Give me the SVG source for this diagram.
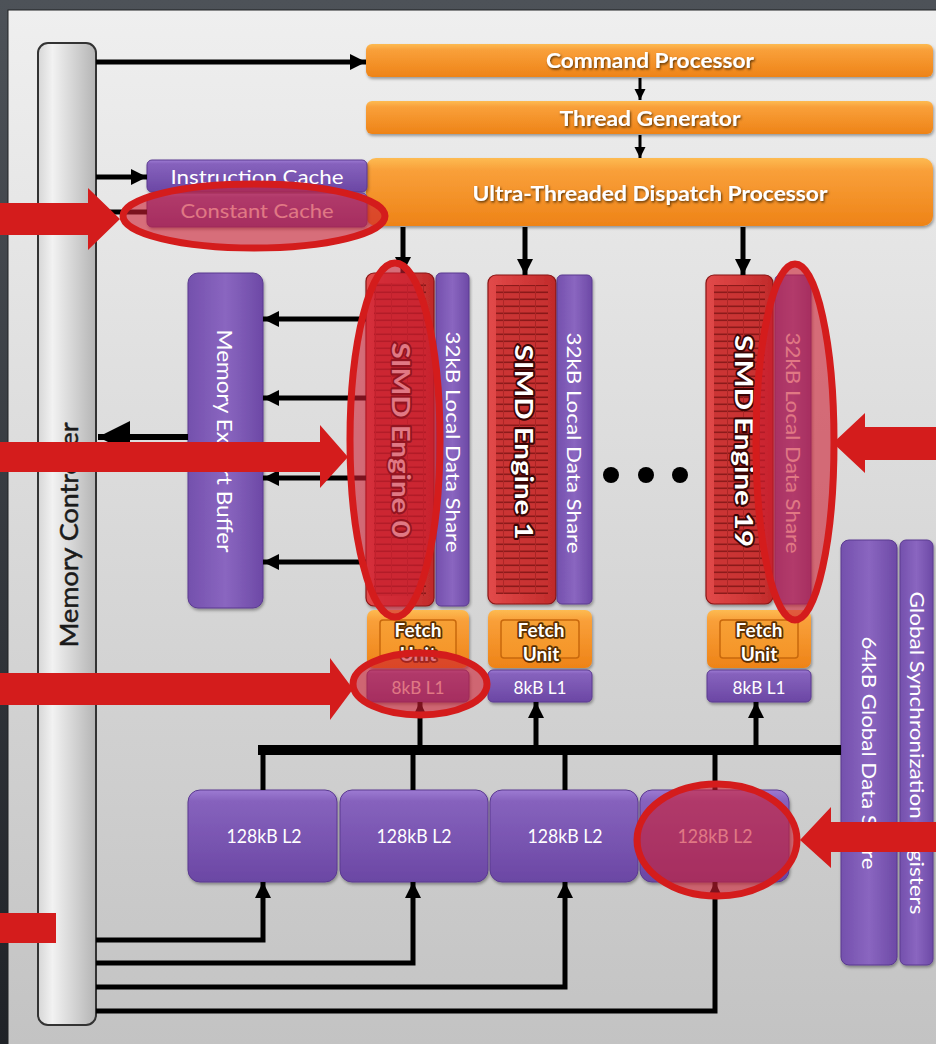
<svg xmlns="http://www.w3.org/2000/svg" width="936" height="1044" viewBox="0 0 936 1044">
<defs>
<linearGradient id="frame" x1="0" y1="0" x2="0" y2="1"><stop offset="0" stop-color="#4d5258"/><stop offset="1" stop-color="#1f2227"/></linearGradient>
<linearGradient id="panel" x1="0" y1="0" x2="0" y2="1"><stop offset="0" stop-color="#efefef"/><stop offset="1" stop-color="#c3c3c3"/></linearGradient>
<linearGradient id="mcg" x1="0" y1="0" x2="1" y2="0"><stop offset="0" stop-color="#d6d6d6"/><stop offset="0.25" stop-color="#f2f2f2"/><stop offset="1" stop-color="#b4b4b4"/></linearGradient>
<linearGradient id="org" x1="0" y1="0" x2="0" y2="1"><stop offset="0" stop-color="#fdbb52"/><stop offset="0.18" stop-color="#f9a03a"/><stop offset="1" stop-color="#ee8317"/></linearGradient>
<linearGradient id="org2" x1="0" y1="0" x2="0" y2="1"><stop offset="0" stop-color="#f7a035"/><stop offset="1" stop-color="#f59528"/></linearGradient>
<linearGradient id="pur" x1="0" y1="0" x2="0" y2="1"><stop offset="0" stop-color="#9d7bd3"/><stop offset="0.12" stop-color="#8662bd"/><stop offset="1" stop-color="#6b47a4"/></linearGradient>
<linearGradient id="purv" x1="0" y1="0" x2="1" y2="0"><stop offset="0" stop-color="#7450ad"/><stop offset="0.5" stop-color="#8a66c0"/><stop offset="1" stop-color="#6d49a6"/></linearGradient>
<linearGradient id="red" x1="0" y1="0" x2="1" y2="0"><stop offset="0" stop-color="#e24a4a"/><stop offset="0.5" stop-color="#d33a3a"/><stop offset="1" stop-color="#c02a2a"/></linearGradient>
<pattern id="simdTex" width="16" height="7" patternUnits="userSpaceOnUse">
<rect width="16" height="7" fill="#c83232"/>
<rect y="4.5" width="16" height="1.6" fill="#7e1414"/>
<rect x="7" width="1" height="7" fill="#a52222"/>
</pattern>
<filter id="sh" x="-10%" y="-10%" width="120%" height="130%"><feDropShadow dx="1" dy="2" stdDeviation="1.5" flood-color="#000" flood-opacity="0.35"/></filter>
<filter id="ts" x="-5%" y="-20%" width="110%" height="150%"><feDropShadow dx="1" dy="1.5" stdDeviation="0.8" flood-color="#4a2500" flood-opacity="0.9"/></filter>
<marker id="ah" viewBox="0 0 10 10" refX="10" refY="5" markerUnits="userSpaceOnUse" markerWidth="16" markerHeight="18" orient="auto"><path d="M0,0 L10,5 L0,10 z" fill="#000"/></marker>
<marker id="ahs" viewBox="0 0 10 10" refX="10" refY="5" markerUnits="userSpaceOnUse" markerWidth="11" markerHeight="12" orient="auto"><path d="M0,0 L10,5 L0,10 z" fill="#000"/></marker>
<marker id="ahb" viewBox="0 0 10 10" refX="10" refY="5" markerUnits="userSpaceOnUse" markerWidth="34" markerHeight="32" orient="auto"><path d="M0,0 L10,5 L0,10 z" fill="#000"/></marker>
<style>
.lbl{font-family:Lato,"Open Sans","Liberation Sans",sans-serif;fill:#ffffff}
.obold{font-weight:bold;font-size:20px;filter:url(#ts)}
.reg{font-size:19px}
.simdt{font-weight:bold;font-size:24px;stroke:#3a0505;stroke-width:3.5px;paint-order:stroke;stroke-linejoin:round}
.fetch{font-weight:bold;font-size:19px;stroke:#5a2e00;stroke-width:3.5px;paint-order:stroke;stroke-linejoin:round}
.ob{fill:url(#org);filter:url(#sh)}
.pb{fill:url(#pur);stroke:#5a3a90;stroke-width:1;filter:url(#sh)}
.pv{fill:url(#purv);stroke:#5a3a90;stroke-width:1;filter:url(#sh)}
.sb{fill:url(#red);stroke:#8a1515;stroke-width:1.2;filter:url(#sh)}
.c{fill:none;stroke:#000;stroke-linejoin:miter}
.hl{fill:rgba(205,30,50,0.6);stroke:#d41c1c;stroke-width:7}
.ra{fill:#d41c1c}
</style>
</defs>

<rect width="936" height="1044" fill="url(#frame)"/>
<rect x="8" y="10" width="929" height="1035" fill="url(#panel)" stroke="#202225" stroke-width="1"/>

<g id="memory-controller">
<rect x="38" y="43" width="58" height="982" rx="10" fill="url(#mcg)" stroke="#333" stroke-width="2"/>
<text transform="translate(68,535) rotate(-90)" text-anchor="middle" dominant-baseline="central" font-family="Lato,'Open Sans','Liberation Sans',sans-serif" font-size="25" fill="#1a1a1a" stroke="#1a1a1a" stroke-width="0.5" textLength="225" lengthAdjust="spacingAndGlyphs">Memory Controller</text>
</g>

<g id="command-processor">
<rect class="ob" x="366" y="44" width="567" height="33" rx="6"/>
<text class="lbl obold" x="650" y="68" text-anchor="middle" textLength="208" lengthAdjust="spacingAndGlyphs">Command Processor</text>
</g>
<g id="thread-generator">
<rect class="ob" x="366" y="101" width="567" height="33" rx="6"/>
<text class="lbl obold" x="650" y="126" text-anchor="middle" textLength="181" lengthAdjust="spacingAndGlyphs">Thread Generator</text>
</g>
<g id="dispatch-processor">
<rect class="ob" x="366" y="158" width="567" height="68" rx="10"/>
<text class="lbl obold" x="650" y="201" text-anchor="middle" font-size="21" textLength="355" lengthAdjust="spacingAndGlyphs">Ultra-Threaded Dispatch Processor</text>
</g>

<g id="instruction-cache">
<rect class="pb" x="147" y="160" width="220" height="32" rx="5"/>
<text class="lbl reg" x="257" y="184" text-anchor="middle" textLength="173" lengthAdjust="spacingAndGlyphs">Instruction Cache</text>
</g>
<g id="constant-cache">
<rect class="pb" x="147" y="193" width="220" height="34" rx="5"/>
<text class="lbl reg" x="257" y="218" text-anchor="middle" textLength="153" lengthAdjust="spacingAndGlyphs">Constant Cache</text>
</g>

<g id="memory-export-buffer">
<rect class="pv" x="188" y="273" width="75" height="335" rx="10"/>
<text class="lbl" transform="translate(225,441) rotate(90)" text-anchor="middle" dominant-baseline="central" font-size="21" textLength="223" lengthAdjust="spacingAndGlyphs">Memory Export Buffer</text>
</g>

<g id="simd-engine-0">
<rect class="sb" x="366" y="273" width="68" height="333" rx="8"/>
<rect x="374" y="283" width="52" height="313" fill="url(#simdTex)" opacity="0.85"/>
<text class="lbl simdt" transform="translate(401,440) rotate(90)" text-anchor="middle" dominant-baseline="central" textLength="195" lengthAdjust="spacingAndGlyphs">SIMD Engine 0</text>
</g>
<g id="lds-0">
<rect class="pv" x="436" y="273" width="33" height="333" rx="5"/>
<text class="lbl" transform="translate(453,442) rotate(90)" text-anchor="middle" dominant-baseline="central" font-size="19" textLength="221" lengthAdjust="spacingAndGlyphs">32kB Local Data Share</text>
</g>
<g id="simd-engine-1">
<rect class="sb" x="488" y="275" width="68" height="329" rx="8"/>
<rect x="496" y="285" width="52" height="309" fill="url(#simdTex)" opacity="0.85"/>
<text class="lbl simdt" transform="translate(524,442) rotate(90)" text-anchor="middle" dominant-baseline="central" textLength="195" lengthAdjust="spacingAndGlyphs">SIMD Engine 1</text>
</g>
<g id="lds-1">
<rect class="pv" x="557" y="275" width="35" height="329" rx="5"/>
<text class="lbl" transform="translate(574,443) rotate(90)" text-anchor="middle" dominant-baseline="central" font-size="19" textLength="221" lengthAdjust="spacingAndGlyphs">32kB Local Data Share</text>
</g>
<g id="ellipsis">
<circle cx="611" cy="475" r="8" fill="#000"/>
<circle cx="646" cy="475" r="8" fill="#000"/>
<circle cx="680" cy="475" r="8" fill="#000"/>
</g>
<g id="simd-engine-19">
<rect class="sb" x="706" y="275" width="67" height="329" rx="8"/>
<rect x="714" y="285" width="51" height="309" fill="url(#simdTex)" opacity="0.85"/>
<text class="lbl simdt" transform="translate(744,441) rotate(90)" text-anchor="middle" dominant-baseline="central" textLength="212" lengthAdjust="spacingAndGlyphs">SIMD Engine 19</text>
</g>
<g id="lds-19">
<rect class="pv" x="775" y="275" width="36" height="329" rx="5"/>
<text class="lbl" transform="translate(793,443) rotate(90)" text-anchor="middle" dominant-baseline="central" font-size="19" textLength="221" lengthAdjust="spacingAndGlyphs">32kB Local Data Share</text>
</g>

<g id="fetch-unit-0">
<rect class="ob" x="367" y="610" width="102" height="58" rx="7"/>
<rect x="380" y="620" width="76" height="38" rx="3" fill="url(#org2)" stroke="#c8680c" stroke-width="1.5"/>
<text class="lbl fetch" x="418" y="637" text-anchor="middle">Fetch</text>
<text class="lbl fetch" x="418" y="661" text-anchor="middle">Unit</text>
</g>
<g id="l1-0">
<rect class="pb" x="367" y="670" width="102" height="32" rx="5"/>
<text class="lbl" x="418" y="694" text-anchor="middle" font-size="17" textLength="53" lengthAdjust="spacingAndGlyphs">8kB L1</text>
</g>
<g id="fetch-unit-1">
<rect class="ob" x="488" y="610" width="104" height="58" rx="7"/>
<rect x="501" y="620" width="78" height="38" rx="3" fill="url(#org2)" stroke="#c8680c" stroke-width="1.5"/>
<text class="lbl fetch" x="541" y="637" text-anchor="middle">Fetch</text>
<text class="lbl fetch" x="541" y="661" text-anchor="middle">Unit</text>
</g>
<g id="l1-1">
<rect class="pb" x="488" y="670" width="104" height="32" rx="5"/>
<text class="lbl" x="540" y="694" text-anchor="middle" font-size="17" textLength="53" lengthAdjust="spacingAndGlyphs">8kB L1</text>
</g>
<g id="fetch-unit-19">
<rect class="ob" x="707" y="610" width="104" height="58" rx="7"/>
<rect x="720" y="620" width="78" height="38" rx="3" fill="url(#org2)" stroke="#c8680c" stroke-width="1.5"/>
<text class="lbl fetch" x="759" y="637" text-anchor="middle">Fetch</text>
<text class="lbl fetch" x="759" y="661" text-anchor="middle">Unit</text>
</g>
<g id="l1-19">
<rect class="pb" x="707" y="670" width="104" height="32" rx="5"/>
<text class="lbl" x="759" y="694" text-anchor="middle" font-size="17" textLength="53" lengthAdjust="spacingAndGlyphs">8kB L1</text>
</g>

<g id="global-data-share">
<rect class="pv" x="841" y="540" width="56" height="425" rx="8"/>
<text class="lbl" transform="translate(870,753) rotate(90)" text-anchor="middle" dominant-baseline="central" font-size="20" textLength="233" lengthAdjust="spacingAndGlyphs">64kB Global Data Share</text>
</g>
<g id="global-sync-registers">
<rect class="pv" x="900" y="540" width="33" height="425" rx="6"/>
<text class="lbl" transform="translate(918,753) rotate(90)" text-anchor="middle" dominant-baseline="central" font-size="20" textLength="323" lengthAdjust="spacingAndGlyphs">Global Synchronization Registers</text>
</g>

<g id="l2-0">
<rect class="pb" x="188" y="790" width="149" height="92" rx="12"/>
<text class="lbl reg" x="264" y="843" text-anchor="middle" textLength="75" lengthAdjust="spacingAndGlyphs">128kB L2</text>
</g>
<g id="l2-1">
<rect class="pb" x="340" y="790" width="148" height="92" rx="12"/>
<text class="lbl reg" x="414" y="843" text-anchor="middle" textLength="75" lengthAdjust="spacingAndGlyphs">128kB L2</text>
</g>
<g id="l2-2">
<rect class="pb" x="490" y="790" width="148" height="92" rx="12"/>
<text class="lbl reg" x="565" y="843" text-anchor="middle" textLength="75" lengthAdjust="spacingAndGlyphs">128kB L2</text>
</g>
<g id="l2-3">
<rect class="pb" x="640" y="790" width="149" height="92" rx="12"/>
<text class="lbl reg" x="715" y="843" text-anchor="middle" textLength="75" lengthAdjust="spacingAndGlyphs">128kB L2</text>
</g>

<g id="connectors">
<path class="c" d="M96,62 H366" stroke-width="5" marker-end="url(#ah)"/>
<path class="c" d="M640,78 V100" stroke-width="3" marker-end="url(#ahs)"/>
<path class="c" d="M640,135 V158" stroke-width="3" marker-end="url(#ahs)"/>
<path class="c" d="M96,177 H147" stroke-width="5" marker-end="url(#ah)"/>
<path class="c" d="M96,212 H147" stroke-width="5"/>
<path class="c" d="M403,227 V273" stroke-width="5" marker-end="url(#ah)"/>
<path class="c" d="M525,227 V275" stroke-width="5" marker-end="url(#ah)"/>
<path class="c" d="M743,227 V275" stroke-width="5" marker-end="url(#ah)"/>
<path class="c" d="M366,319 H263" stroke-width="5" marker-end="url(#ah)"/>
<path class="c" d="M366,398 H263" stroke-width="5" marker-end="url(#ah)"/>
<path class="c" d="M366,478 H263" stroke-width="5" marker-end="url(#ah)"/>
<path class="c" d="M366,562 H263" stroke-width="5" marker-end="url(#ah)"/>
<path class="c" d="M188,437 H98" stroke-width="6" marker-end="url(#ahb)"/>
<path class="c" d="M258,750 H841" stroke-width="10"/>
<path class="c" d="M263,790 V750 M413,790 V750 M565,790 V750 M715,790 V750" stroke-width="5"/>
<path class="c" d="M420,750 V702" stroke-width="5" marker-end="url(#ah)"/>
<path class="c" d="M536,750 V702" stroke-width="5" marker-end="url(#ah)"/>
<path class="c" d="M756,750 V702" stroke-width="5" marker-end="url(#ah)"/>
<path class="c" d="M96,940 H263 V882" stroke-width="5" marker-end="url(#ah)"/>
<path class="c" d="M96,963 H413 V882" stroke-width="5" marker-end="url(#ah)"/>
<path class="c" d="M96,987 H565 V882" stroke-width="5" marker-end="url(#ah)"/>
<path class="c" d="M96,1011 H715 V882" stroke-width="5" marker-end="url(#ah)"/>
</g>

<g id="highlights">
<ellipse class="hl" cx="254" cy="216" rx="131" ry="32"/>
<ellipse class="hl" cx="395" cy="440" rx="45" ry="177"/>
<ellipse class="hl" cx="420" cy="684" rx="67" ry="31"/>
<ellipse class="hl" cx="795" cy="442" rx="39" ry="178"/>
<ellipse class="hl" cx="717" cy="840" rx="80" ry="56"/>
<polygon class="ra" points="0,203 88,203 88,188 120,219 88,250 88,235 0,235"/>
<polygon class="ra" points="0,442 320,442 320,425 348,457 320,488 320,472 0,472"/>
<polygon class="ra" points="0,673 330,673 330,658 353,689 330,720 330,705 0,705"/>
<polygon class="ra" points="936,427 865,427 865,413 833,443 865,473 865,460 936,460"/>
<polygon class="ra" points="936,822 831,822 831,807 800,840 831,868 831,852 936,852"/>
<rect class="ra" x="0" y="913" width="56" height="30"/>
</g>
</svg>
